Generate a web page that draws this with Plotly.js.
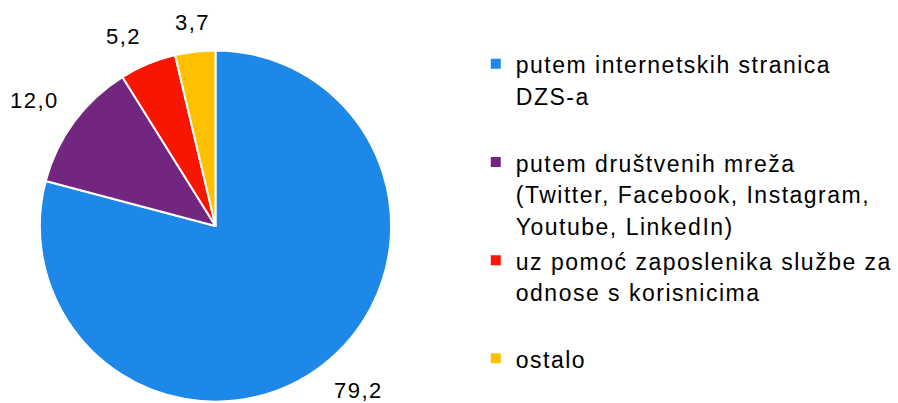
<!DOCTYPE html>
<html>
<head>
<meta charset="utf-8">
<script src="https://cdn.plot.ly/plotly-3.0.1.min.js"></script>
<style>
  html, body { margin: 0; padding: 0; background: #fff; }
  #chart { width: 898px; height: 403px; }
  text { letter-spacing: 1.5px; }
</style>
</head>
<body>
<div id="chart"></div>
<script>
// Data
const categories = [
  ["putem internetskih stranica", "DZS-a"],
  ["putem društvenih mreža", "(Twitter, Facebook, Instagram,", "Youtube, LinkedIn)"],
  ["uz pomoć zaposlenika službe za", "odnose s korisnicima"],
  ["ostalo"]
];
const values = [79.2, 12.0, 5.2, 3.7];
const colors = ["#1E88E8", "#72267F", "#F91600", "#FFC000"];

const W = 898, H = 403;
const FONT = "Liberation Sans, Arial, sans-serif";
const pieDomain = { x: [0.0445, 0.4365], y: [0.0025, 0.8759] };

// Legend entries padded to equal height (3 lines each, last one left as is)
const LINES = 3;
const labels = categories.map(function (lines, i) {
  const padded = lines.slice();
  if (i < categories.length - 1) { while (padded.length < LINES) padded.push(" "); }
  return padded.map(function (l) { return '<span style="font-size:23px">' + l + '</span>'; }).join("<br>");
});

// Outside value labels, placed from the slice angles
const cx = (pieDomain.x[0] + pieDomain.x[1]) / 2 * W;
const cy = (1 - (pieDomain.y[0] + pieDomain.y[1]) / 2) * H;
const r = Math.min((pieDomain.x[1] - pieDomain.x[0]) * W, (pieDomain.y[1] - pieDomain.y[0]) * H) / 2;
const gap = 20, padX = 2.5, padY = 5.5;
const total = values.reduce(function (a, b) { return a + b; }, 0);
let cum = 0;
const annotations = values.map(function (v) {
  const mid = (cum + v / 2) / total * 2 * Math.PI;
  cum += v;
  const dx = Math.sin(mid), dy = -Math.cos(mid);
  let px = cx + (r + gap) * dx, py = cy + (r + gap) * dy;
  let xanchor = "center", yanchor = "middle";
  if (Math.abs(dx) >= 0.25) { xanchor = dx > 0 ? "left" : "right"; px += dx > 0 ? -padX : padX; }
  if (Math.abs(dy) >= 0.25) { yanchor = dy > 0 ? "top" : "bottom"; py += dy > 0 ? -padY : padY; }
  return {
    xref: "paper", yref: "paper",
    x: px / W, y: 1 - py / H,
    xanchor: xanchor, yanchor: yanchor,
    text: v.toFixed(1).replace(".", ","),
    showarrow: false,
    font: { family: FONT, size: 22, color: "#000000" }
  };
});

const trace = {
  type: "pie",
  labels: labels,
  values: values,
  sort: false,
  direction: "clockwise",
  rotation: 0,
  marker: { colors: colors, line: { color: "#ffffff", width: 2 } },
  textinfo: "none",
  hoverinfo: "label+value",
  domain: pieDomain
};

const layout = {
  width: W,
  height: H,
  margin: { l: 0, r: 0, t: 0, b: 0 },
  paper_bgcolor: "#ffffff",
  plot_bgcolor: "#ffffff",
  separators: ", ",
  showlegend: true,
  annotations: annotations,
  legend: {
    x: 0.531,
    xanchor: "left",
    y: 0.897,
    yanchor: "top",
    valign: "top",
    font: { family: FONT, size: 24.4, color: "#000000" },
    bgcolor: "rgba(0,0,0,0)"
  }
};

Plotly.newPlot("chart", [trace], layout, { displayModeBar: false, staticPlot: true });
</script>
</body>
</html>
